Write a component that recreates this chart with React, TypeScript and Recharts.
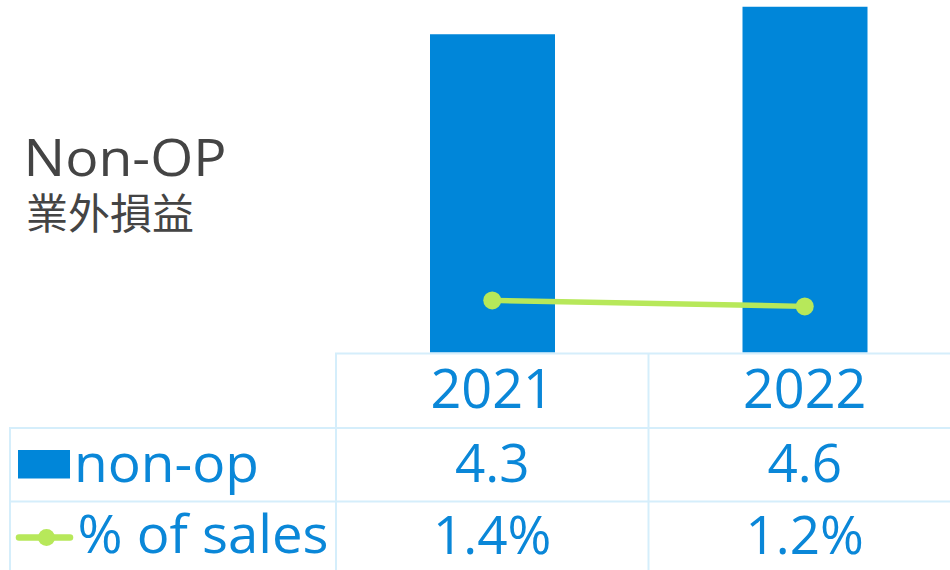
import React from "react";
import { ComposedChart, Bar, Line, XAxis, YAxis } from "recharts";

const years = ["2021", "2022"];
const nonOp = [4.26, 4.63];
const pctOfSales = [1.39, 1.23];
const rowLabels = ["non-op", "% of sales"];
const titleEn = "Non-OP";
const titleZh = "業外損益";

const BLUE = "#0086D9";
const TEXT_BLUE = "#0A87D8";
const GREEN = "#B7E85A";
const GRID = "#D5EEFB";
const GRAY = "#444444";
const FONT = "'Open Sans', 'Noto Sans', sans-serif";

const data = years.map((y, i) => ({ year: y, nonop: nonOp[i], pct: pctOfSales[i] }));

const YearTick = (props: any) => {
  const { x, y, payload } = props;
  const i = years.indexOf(payload.value);
  return (
    <g>
      <text x={x} y={y + 55.5} textAnchor="middle" fill={TEXT_BLUE} fontSize={54} fontFamily={FONT}>
        {payload.value}
      </text>
      <text x={x} y={y + 129} textAnchor="middle" fill={TEXT_BLUE} fontSize={53} fontFamily={FONT}>
        {nonOp[i].toFixed(1)}
      </text>
      <text x={x} y={y + 201.5} textAnchor="middle" fill={TEXT_BLUE} fontSize={53} fontFamily={FONT}>
        {pctOfSales[i].toFixed(1) + "%"}
      </text>
    </g>
  );
};

export default function App() {
  return (
    <div style={{ position: "relative", width: 950, height: 570, overflow: "hidden", background: "#fff" }}>
      <style>{"html, body { margin: 0; padding: 0; overflow: hidden; }"}</style>
      <div style={{ position: "absolute", left: 0, top: 0 }}>
        <ComposedChart
          width={961}
          height={570}
          data={data}
          margin={{ top: 0, right: 0, bottom: 0, left: 336 }}
          barCategoryGap="30%"
        >
          <XAxis
            dataKey="year"
            height={217.5}
            axisLine={false}
            tickLine={false}
            tickSize={0}
            tickMargin={0}
            tick={<YearTick />}
            interval={0}
          />
          <YAxis yAxisId="left" hide width={0} domain={[0, 4.72]} />
          <YAxis yAxisId="right" orientation="right" hide width={0} domain={[0, 9.4]} />
          <Bar yAxisId="left" dataKey="nonop" fill={BLUE} barSize={125} isAnimationActive={false} />
          <Line
            yAxisId="right"
            dataKey="pct"
            stroke={GREEN}
            strokeWidth={5.5}
            dot={{ r: 9, fill: GREEN, stroke: "none" }}
            activeDot={false}
            isAnimationActive={false}
          />
        </ComposedChart>
      </div>
      <svg
        width={950}
        height={570}
        style={{ position: "absolute", left: 0, top: 0, pointerEvents: "none" }}
      >
        <g stroke={GRID} strokeWidth={2}>
          <line x1={335} y1={353.5} x2={950} y2={353.5} />
          <line x1={10} y1={428} x2={950} y2={428} />
          <line x1={10} y1={501.5} x2={950} y2={501.5} />
          <line x1={336} y1={353} x2={336} y2={570} />
          <line x1={648.5} y1={353} x2={648.5} y2={570} />
          <line x1={10} y1={427} x2={10} y2={570} />
        </g>
        <rect x={18} y={450} width={52} height={28.5} fill={BLUE} />
        <line x1={19} y1={537.5} x2={70} y2={537.5} stroke={GREEN} strokeWidth={6.5} strokeLinecap="round" />
        <circle cx={46.5} cy={537.5} r={8.5} fill={GREEN} />
        <text x={74} y={481.5} fill={TEXT_BLUE} fontSize={53} fontFamily={FONT} textLength={185} lengthAdjust="spacingAndGlyphs">
          {rowLabels[0]}
        </text>
        <text x={77.5} y={552.5} fill={TEXT_BLUE} fontSize={53} fontFamily={FONT} textLength={251} lengthAdjust="spacingAndGlyphs">
          {rowLabels[1]}
        </text>
        <text x={23.5} y={175.7} fill={GRAY} fontSize={52} fontFamily={FONT} textLength={203} lengthAdjust="spacingAndGlyphs">
          {titleEn}
        </text>
        <text x={26} y={228.8} fill={GRAY} fontSize={42} fontFamily="'Noto Sans CJK TC', sans-serif">
          {titleZh}
        </text>
      </svg>
    </div>
  );
}
